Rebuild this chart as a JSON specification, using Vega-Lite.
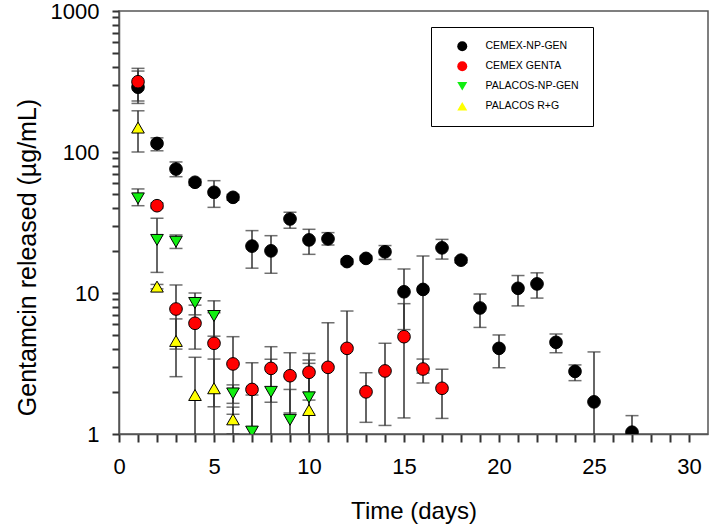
{
  "$schema": "https://vega.github.io/schema/vega-lite/v6.json",
  "width": 589,
  "height": 423,
  "autosize": "none",
  "padding": {"left": 119, "top": 11, "right": 2, "bottom": 98},
  "background": "white",
  "config": {
    "view": {"stroke": "#555555", "strokeWidth": 1.5},
    "font": "Liberation Sans",
    "axis": {"ticks": true, "tickSize": 8, "tickColor": "#333333", "tickWidth": 2, "tickOpacity": 1}
  },
  "data": {"values": [
    {"g": "CEMEX-NP-GEN", "day": 1, "value": 288, "lo": 221, "hi": 375},
    {"g": "CEMEX-NP-GEN", "day": 2, "value": 115, "lo": 102, "hi": 126},
    {"g": "CEMEX-NP-GEN", "day": 3, "value": 75.7, "lo": 66.8, "hi": 85},
    {"g": "CEMEX-NP-GEN", "day": 4, "value": 61, "lo": 58, "hi": 64},
    {"g": "CEMEX-NP-GEN", "day": 5, "value": 51.8, "lo": 40.5, "hi": 62.6},
    {"g": "CEMEX-NP-GEN", "day": 6, "value": 47.7, "lo": 45.5, "hi": 50},
    {"g": "CEMEX-NP-GEN", "day": 7, "value": 21.5, "lo": 15.0, "hi": 27.7},
    {"g": "CEMEX-NP-GEN", "day": 8, "value": 19.9, "lo": 13.8, "hi": 25.5},
    {"g": "CEMEX-NP-GEN", "day": 9, "value": 33.5, "lo": 28.8, "hi": 37.4},
    {"g": "CEMEX-NP-GEN", "day": 10, "value": 23.8, "lo": 18.8, "hi": 28.3},
    {"g": "CEMEX-NP-GEN", "day": 11, "value": 24.2, "lo": 21.9, "hi": 26.8},
    {"g": "CEMEX-NP-GEN", "day": 12, "value": 16.7, "lo": 16.0, "hi": 17.4},
    {"g": "CEMEX-NP-GEN", "day": 13, "value": 17.6, "lo": 17.0, "hi": 18.3},
    {"g": "CEMEX-NP-GEN", "day": 14, "value": 19.6, "lo": 17.3, "hi": 21.7},
    {"g": "CEMEX-NP-GEN", "day": 15, "value": 10.2, "lo": 5.5, "hi": 14.8},
    {"g": "CEMEX-NP-GEN", "day": 16, "value": 10.6, "lo": 2.7, "hi": 18.3},
    {"g": "CEMEX-NP-GEN", "day": 17, "value": 20.9, "lo": 17.4, "hi": 24.0},
    {"g": "CEMEX-NP-GEN", "day": 18, "value": 17.1, "lo": 16.4, "hi": 17.8},
    {"g": "CEMEX-NP-GEN", "day": 19, "value": 7.83, "lo": 5.7, "hi": 9.84},
    {"g": "CEMEX-NP-GEN", "day": 20, "value": 4.05, "lo": 2.95, "hi": 5.04},
    {"g": "CEMEX-NP-GEN", "day": 21, "value": 10.8, "lo": 8.1, "hi": 13.3},
    {"g": "CEMEX-NP-GEN", "day": 22, "value": 11.6, "lo": 9.2, "hi": 13.9},
    {"g": "CEMEX-NP-GEN", "day": 23, "value": 4.47, "lo": 3.77, "hi": 5.12},
    {"g": "CEMEX-NP-GEN", "day": 24, "value": 2.78, "lo": 2.39, "hi": 3.09},
    {"g": "CEMEX-NP-GEN", "day": 25, "value": 1.69, "lo": 0.3, "hi": 3.82},
    {"g": "CEMEX-NP-GEN", "day": 27, "value": 1.03, "lo": 0.7, "hi": 1.35},
    {"g": "CEMEX GENTA", "day": 1, "value": 315, "lo": 230, "hi": 392},
    {"g": "CEMEX GENTA", "day": 2, "value": 41.6, "lo": 40, "hi": 43.5},
    {"g": "CEMEX GENTA", "day": 3, "value": 7.7, "lo": 4.0, "hi": 11.4},
    {"g": "CEMEX GENTA", "day": 4, "value": 6.1, "lo": 4.0, "hi": 8.2},
    {"g": "CEMEX GENTA", "day": 5, "value": 4.4, "lo": 1.56, "hi": 7.24},
    {"g": "CEMEX GENTA", "day": 6, "value": 3.14, "lo": 1.38, "hi": 4.9},
    {"g": "CEMEX GENTA", "day": 7, "value": 2.07, "lo": 0.9, "hi": 3.2},
    {"g": "CEMEX GENTA", "day": 8, "value": 2.92, "lo": 1.68, "hi": 4.16},
    {"g": "CEMEX GENTA", "day": 9, "value": 2.59, "lo": 1.41, "hi": 3.77},
    {"g": "CEMEX GENTA", "day": 10, "value": 2.74, "lo": 1.74, "hi": 3.73},
    {"g": "CEMEX GENTA", "day": 11, "value": 2.97, "lo": 0.3, "hi": 6.15},
    {"g": "CEMEX GENTA", "day": 12, "value": 4.05, "lo": 0.3, "hi": 7.45},
    {"g": "CEMEX GENTA", "day": 13, "value": 1.99, "lo": 1.21, "hi": 2.72},
    {"g": "CEMEX GENTA", "day": 14, "value": 2.8, "lo": 1.15, "hi": 4.4},
    {"g": "CEMEX GENTA", "day": 15, "value": 4.9, "lo": 1.3, "hi": 8.4},
    {"g": "CEMEX GENTA", "day": 16, "value": 2.89, "lo": 2.3, "hi": 3.4},
    {"g": "CEMEX GENTA", "day": 17, "value": 2.11, "lo": 1.29, "hi": 2.88},
    {"g": "PALACOS-NP-GEN", "day": 1, "value": 46.9, "lo": 41.6, "hi": 54.7},
    {"g": "PALACOS-NP-GEN", "day": 2, "value": 23.8, "lo": 14.0, "hi": 33.9},
    {"g": "PALACOS-NP-GEN", "day": 3, "value": 23.1, "lo": 20.7, "hi": 25.8},
    {"g": "PALACOS-NP-GEN", "day": 4, "value": 8.5, "lo": 7.0, "hi": 10.0},
    {"g": "PALACOS-NP-GEN", "day": 5, "value": 6.87, "lo": 4.94, "hi": 8.8},
    {"g": "PALACOS-NP-GEN", "day": 6, "value": 1.94, "lo": 1.65, "hi": 2.23},
    {"g": "PALACOS-NP-GEN", "day": 7, "value": 1.04, "lo": 0.3, "hi": 1.89},
    {"g": "PALACOS-NP-GEN", "day": 8, "value": 1.99, "lo": 0.59, "hi": 3.39},
    {"g": "PALACOS-NP-GEN", "day": 9, "value": 1.26, "lo": 0.46, "hi": 2.07},
    {"g": "PALACOS-NP-GEN", "day": 10, "value": 1.82, "lo": 0.3, "hi": 3.35},
    {"g": "PALACOS R+G", "day": 1, "value": 149, "lo": 100, "hi": 196},
    {"g": "PALACOS R+G", "day": 2, "value": 11.1, "lo": 10.7, "hi": 11.5},
    {"g": "PALACOS R+G", "day": 3, "value": 4.57, "lo": 2.55, "hi": 6.55},
    {"g": "PALACOS R+G", "day": 4, "value": 1.89, "lo": 0.3, "hi": 3.5},
    {"g": "PALACOS R+G", "day": 5, "value": 2.11, "lo": 0.8, "hi": 3.4},
    {"g": "PALACOS R+G", "day": 6, "value": 1.27, "lo": 1.0, "hi": 1.55},
    {"g": "PALACOS R+G", "day": 10, "value": 1.48, "lo": 0.3, "hi": 3.17}
  ]},
  "encoding": {
    "x": {
      "field": "day", "type": "quantitative", "title": "Time (days)",
      "scale": {"domain": [0, 31], "nice": false},
      "axis": {
        "ticks": true, "grid": false,
        "values": [0,1,2,3,4,5,6,7,8,9,10,11,12,13,14,15,16,17,18,19,20,21,22,23,24,25,26,27,28,29,30],
        "labelExpr": "datum.value % 5 == 0 ? datum.label : ''",
        "tickSize": 8, "tickColor": "#333333", "tickWidth": 2, "tickOpacity": 1,
        "labelOverlap": false, "labelFlush": false, "labelBound": false,
        "labelFontSize": 22, "labelColor": "black", "labelPadding": 14,
        "titleFontSize": 24, "titleFontWeight": "normal", "titleColor": "black", "titlePadding": 22,
        "domainColor": "#555555", "domainWidth": 1.5
      }
    }
  },
  "layer": [
    {
      "mark": {"type": "rule", "clip": true, "color": "#333333", "strokeWidth": 1.5},
      "encoding": {
        "y": {
          "field": "lo", "type": "quantitative", "title": "Gentamcin released (µg/mL)",
          "scale": {"type": "log", "domain": [1, 1000], "nice": false},
          "axis": {
            "ticks": true, "grid": false,
            "values": [1,2,3,4,5,6,7,8,9,10,20,30,40,50,60,70,80,90,100,200,300,400,500,600,700,800,900,1000],
            "labelExpr": "(datum.value == 1 || datum.value == 10 || datum.value == 100 || datum.value == 1000) ? format(datum.value, 'd') : ''",
            "tickSize": 7, "tickColor": "#333333", "tickWidth": 2, "tickOpacity": 1,
            "labelOverlap": false, "labelFlush": false, "labelBound": false,
            "labelFontSize": 22, "labelColor": "black", "labelPadding": 13,
            "titleFontSize": 25, "titleFontWeight": "normal", "titleColor": "black", "titlePadding": 10,
            "titleY": 246,
            "domainColor": "#555555", "domainWidth": 1.5
          }
        },
        "y2": {"field": "hi"}
      }
    },
    {
      "mark": {"type": "tick", "orient": "horizontal", "clip": true, "color": "#333333", "size": 13, "thickness": 1.5},
      "encoding": {
        "y": {"field": "lo", "type": "quantitative", "title": "Gentamcin released (µg/mL)"}
      }
    },
    {
      "mark": {"type": "tick", "orient": "horizontal", "clip": true, "color": "#333333", "size": 13, "thickness": 1.5},
      "encoding": {
        "y": {"field": "hi", "type": "quantitative", "title": "Gentamcin released (µg/mL)"}
      }
    },
    {
      "mark": {"type": "point", "filled": true, "stroke": "black", "strokeWidth": 1, "opacity": 1, "size": 160, "clip": true},
      "encoding": {
        "y": {"field": "value", "type": "quantitative", "title": "Gentamcin released (µg/mL)"},
        "fill": {
          "field": "g", "type": "nominal",
          "scale": {"domain": ["CEMEX-NP-GEN", "CEMEX GENTA", "PALACOS-NP-GEN", "PALACOS R+G"], "range": ["#000000", "#ff0000", "#11ee11", "#ffff00"]},
          "legend": {"orient": "none", "legendX": 312, "legendY": 16, "title": null, "padding": 14, "strokeColor": "black", "fillColor": "white", "symbolOffset": 12, "labelOffset": 18, "labelFontSize": 10.5, "labelColor": "black", "symbolSize": 100, "rowPadding": 9, "symbolStrokeWidth": 0}
        },
        "shape": {
          "field": "g", "type": "nominal",
          "scale": {"domain": ["CEMEX-NP-GEN", "CEMEX GENTA", "PALACOS-NP-GEN", "PALACOS R+G"], "range": ["circle", "circle", "triangle-down", "triangle-up"]},
          "legend": {"orient": "none", "legendX": 312, "legendY": 16, "title": null, "padding": 14, "strokeColor": "black", "fillColor": "white", "symbolOffset": 12, "labelOffset": 18, "labelFontSize": 10.5, "labelColor": "black", "symbolSize": 100, "rowPadding": 9, "symbolStrokeWidth": 0}
        }
      }
    }
  ]
}
